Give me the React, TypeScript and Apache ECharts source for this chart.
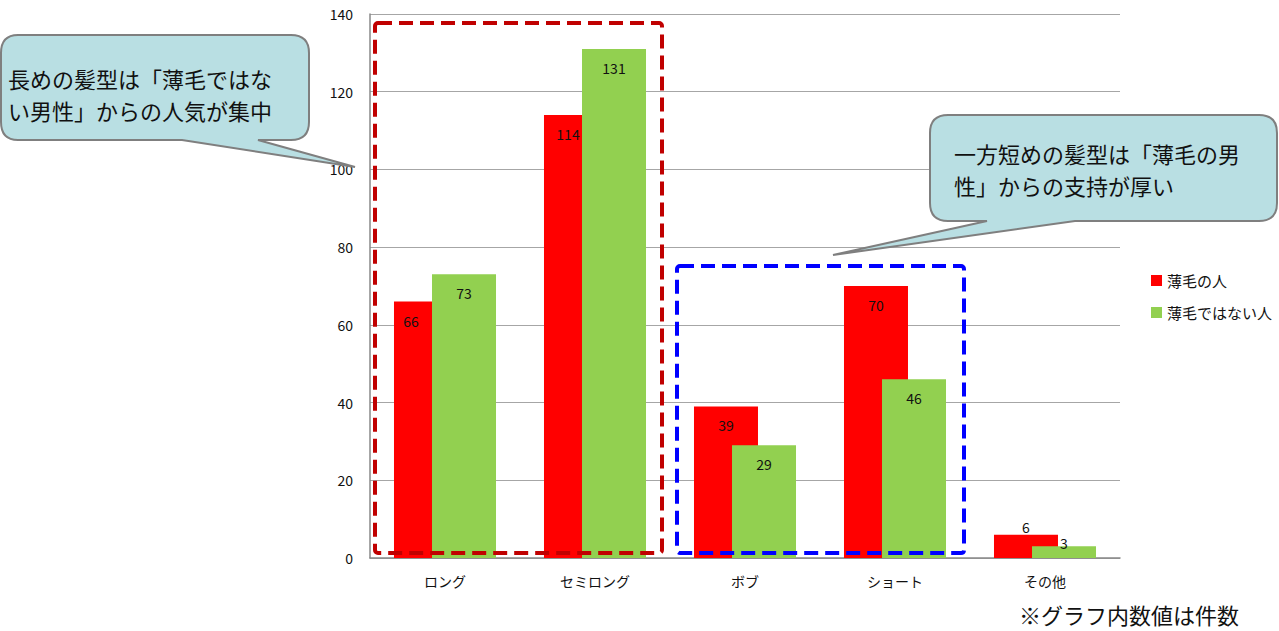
import React, { useEffect, useRef } from "react";
import * as echarts from "echarts";

const categories = ["ロング", "セミロング", "ボブ", "ショート", "その他"];
const thinHair = [66, 114, 39, 70, 6];
const notThinHair = [73, 131, 29, 46, 3];
const seriesNames = ["薄毛の人", "薄毛ではない人"];
const yTicks = { min: 0, max: 140, interval: 20 };

const FONT = "'Noto Sans CJK JP', 'Noto Sans', sans-serif";

const callout1 =
  "M 18 35 L 291 35 Q 309 35 309 53 L 309 122 Q 309 140 291 140 L 258 140 L 355 167 L 182 140 L 18 140 Q 1 140 1 122 L 1 53 Q 1 35 18 35 Z";
const callout2 =
  "M 948 115 L 1259 115 Q 1277 115 1277 133 L 1277 203 Q 1277 221 1259 221 L 1075 221 L 833 255 L 987 221 L 948 221 Q 930 221 930 203 L 930 133 Q 930 115 948 115 Z";

echarts.graphic.registerShape("callout1", echarts.graphic.extendPath(callout1, {}));
echarts.graphic.registerShape("callout2", echarts.graphic.extendPath(callout2, {}));

export default function App() {
  const ref = useRef<HTMLDivElement>(null);
  useEffect(() => {
    if (!ref.current) return;
    const chart = echarts.init(ref.current, null, { renderer: "svg" });
    const redOffsets: Record<number, number[]> = { 0: [-15, 0], 1: [-8, 0] };
    const redData = thinHair.map((v, i) => {
      const item: any = { value: v };
      if (i === 4) {
        item.label = { position: "top", distance: 1 };
      } else if (redOffsets[i]) {
        item.label = { offset: redOffsets[i] };
      }
      return item;
    });
    const greenData = notThinHair.map((v, i) => {
      const item: any = { value: v };
      if (i === 4) {
        item.label = { position: "top", distance: -4 };
      }
      return item;
    });
    const calloutStyle = { fill: "#B9DFE3", stroke: "#7F7F7F", lineWidth: 2 };
    const textEl = (t: string, x: number, y: number, size: number) => ({
      type: "text",
      x,
      y,
      z: 110,
      style: {
        text: t,
        fill: "#111",
        fontSize: size,
        fontFamily: FONT,
        verticalAlign: "middle",
        align: "left",
      },
    });
    chart.setOption({
      animation: false,
      textStyle: { fontFamily: FONT },
      grid: { left: 370, right: 159, top: 14, bottom: 73, containLabel: false },
      legend: {
        orient: "vertical",
        left: 1146,
        top: 268,
        itemWidth: 11,
        itemHeight: 11,
        itemGap: 17,
        icon: "rect",
        textStyle: { fontSize: 15, color: "#111", fontFamily: FONT },
        data: seriesNames,
      },
      xAxis: {
        type: "category",
        data: categories,
        axisLine: { lineStyle: { color: "#888888", width: 1.5 } },
        axisTick: { show: false },
        axisLabel: { fontSize: 14, color: "#111", margin: 16, fontFamily: FONT },
      },
      yAxis: {
        type: "value",
        min: yTicks.min,
        max: yTicks.max,
        interval: yTicks.interval,
        axisLine: { show: true, lineStyle: { color: "#888888", width: 1.5 } },
        axisTick: { show: false },
        splitLine: { lineStyle: { color: "#A6A6A6", width: 1 } },
        axisLabel: { fontSize: 14, color: "#111", margin: 17, fontFamily: FONT },
      },
      series: [
        {
          name: seriesNames[0],
          type: "bar",
          data: redData,
          barWidth: 64,
          barGap: "-40.6%",
          itemStyle: { color: "#FF0000" },
          label: {
            show: true,
            position: "insideTop",
            distance: 12,
            fontSize: 14,
            color: "#111",
            fontFamily: FONT,
          },
        },
        {
          name: seriesNames[1],
          type: "bar",
          data: greenData,
          barWidth: 64,
          barGap: "-40.6%",
          itemStyle: { color: "#92D050" },
          label: {
            show: true,
            position: "insideTop",
            distance: 12,
            fontSize: 14,
            color: "#111",
            fontFamily: FONT,
          },
        },
      ],
      graphic: [
        {
          type: "rect",
          z: 100,
          shape: { x: 375, y: 23, width: 287, height: 530, r: 3 },
          style: { fill: null, stroke: "#C00000", lineWidth: 4, lineDash: [14, 7] },
        },
        {
          type: "rect",
          z: 100,
          shape: { x: 677, y: 266, width: 287, height: 287, r: 3 },
          style: { fill: null, stroke: "#0000FF", lineWidth: 4, lineDash: [14, 7] },
        },
        { type: "callout1", x: 0, y: 0, z: 105, style: calloutStyle },
        { type: "callout2", x: 0, y: 0, z: 105, style: calloutStyle },
        textEl("長めの髪型は「薄毛ではな", 8, 78, 22),
        textEl("い男性」からの人気が集中", 8, 110, 22),
        textEl("一方短めの髪型は「薄毛の男", 954, 153, 22),
        textEl("性」からの支持が厚い", 954, 185, 22),
        textEl("※グラフ内数値は件数", 1019, 614, 22),
      ],
    });
    return () => chart.dispose();
  }, []);
  return (
    <div
      ref={ref}
      style={{ position: "fixed", left: 0, top: 0, width: 1279, height: 631, background: "#fff" }}
    />
  );
}
